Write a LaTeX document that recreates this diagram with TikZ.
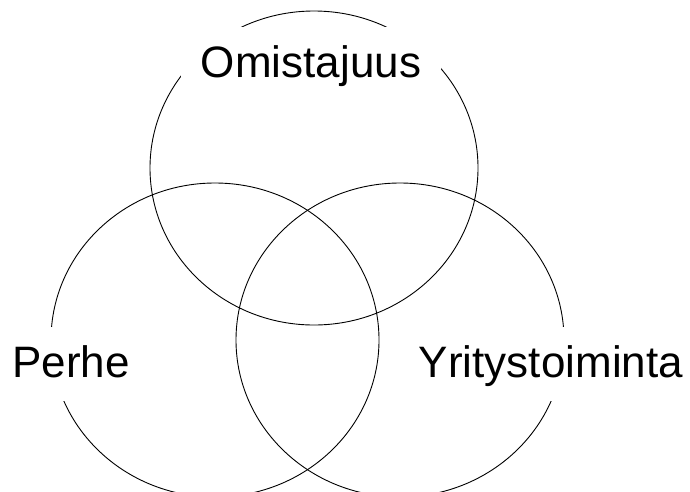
\documentclass[tikz,border=0pt]{standalone}
\usepackage{fontspec}
\setmainfont{Liberation Sans}
\usepackage{tikz}
\usetikzlibrary{positioning}
\tikzset{
  ring/.style={draw=black, line width=0.9pt},
  setlabel/.style={fill=white, inner sep=20pt, text height=30pt, text depth=4pt,
    font=\fontsize{44}{50}\selectfont, anchor=base},
}

\begin{document}
\begin{tikzpicture}[x=1pt, y=-1pt]
        \useasboundingbox (0,0) rectangle (690,491);
        \foreach \cx/\cy in {314/168, 215/340, 400/340} {
          \draw[ring] (\cx,\cy) ellipse [x radius=164, y radius=157];
        }
        \node[setlabel] (omistajuus) at (311,77) {Omistajuus};
        \node[setlabel] (perhe) at (71,377) {Perhe};
        \node[setlabel] (yritys) at (551,377) {Yritystoiminta};
      \end{tikzpicture}
\end{document}
